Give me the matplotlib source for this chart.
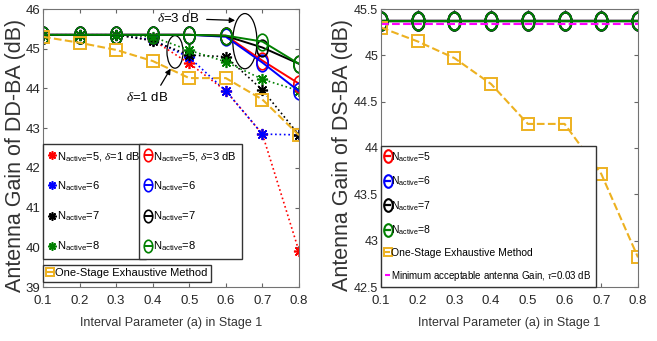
import matplotlib
matplotlib.use("Agg")
import matplotlib.pyplot as plt
from matplotlib.path import Path
from matplotlib.patches import Ellipse
import numpy as np

# fonts (horizontal text in the reference is narrow, vertical text is tall)
plt.rcParams["font.family"] = ["Liberation Sans", "DejaVu Sans"]
plt.rcParams["mathtext.fontset"] = "custom"
plt.rcParams["mathtext.rm"] = "Liberation Sans"
plt.rcParams["mathtext.it"] = "Liberation Serif:italic"

# data
a = [0.1, 0.2, 0.3, 0.4, 0.5, 0.6, 0.7, 0.8]
exhaustive = [45.30, 45.15, 44.97, 44.69, 44.26, 44.26, 43.72, 42.82]

# DD-BA, delta = 1 dB
dd_d1 = {
    5: [45.35, 45.35, 45.35, 45.22, 44.63, 43.94, 42.85, 39.90],
    6: [45.35, 45.35, 45.35, 45.22, 44.78, 43.94, 42.85, 42.83],
    7: [45.35, 45.35, 45.35, 45.20, 44.84, 44.80, 43.96, 42.83],
    8: [45.35, 45.35, 45.35, 45.30, 44.96, 44.67, 44.23, 43.94],
}
# DD-BA, delta = 3 dB
dd_d3 = {
    5: [45.35, 45.35, 45.35, 45.35, 45.35, 45.33, 44.70, 44.12],
    6: [45.35, 45.35, 45.35, 45.35, 45.35, 45.30, 44.65, 43.93],
    7: [45.35, 45.35, 45.35, 45.35, 45.35, 45.32, 45.03, 44.62],
    8: [45.35, 45.35, 45.35, 45.35, 45.35, 45.33, 45.18, 44.62],
}
# DS-BA
ds = {
    5: [45.37] * 8,
    6: [45.37] * 8,
    7: [45.37] * 8,
    8: [45.37] * 8,
}
min_gain = [45.34] * 8
colors = {5: "red", 6: "blue", 7: "black", 8: "#008000"}
orange = "#EDB120"

# tall ellipse marker (like the squashed MATLAB circles)
circ = Path.unit_circle()
ell_marker = Path(circ.vertices * np.array([0.68, 1.0]), circ.codes)
ast = (8, 2, 0)

fig = plt.figure(figsize=(6.57, 3.41), dpi=100)
ax1 = fig.add_axes([43 / 657, 54 / 341, 256 / 657, 278 / 341])
ax2 = fig.add_axes([381 / 657, 54 / 341, 257 / 657, 278 / 341])

for ax in (ax1, ax2):
    ax.tick_params(direction="in", top=True, right=True, labelsize=9.5,
                   length=3, color="0.4", labelcolor="0.15")
    ax.tick_params(axis="x", pad=6)
    ax.tick_params(axis="y", pad=2)
    for s in ax.spines.values():
        s.set_color("0.45")
    ax.set_xlim(0.1, 0.8)
    ax.set_xticks(a)
    ax.set_xlabel("Interval Parameter (a) in Stage 1", fontsize=9, color="0.2",
                  labelpad=7)
ax2.tick_params(axis="y", labelsize=9)

# ---- left: DD-BA ----
h1 = []
for n in [5, 6, 7, 8]:
    l, = ax1.plot(a, dd_d1[n], linestyle=":", color=colors[n], marker=ast,
                  markersize=8, markeredgewidth=1.2, linewidth=1.2)
    h1.append(l)
h3 = []
for n in [5, 6, 7, 8]:
    l, = ax1.plot(a, dd_d3[n], linestyle="-", color=colors[n], marker=ell_marker,
                  markersize=12, markerfacecolor="none", markeredgewidth=1.2,
                  linewidth=1.4)
    h3.append(l)
he, = ax1.plot(a, exhaustive, linestyle="--", color=orange, marker="s",
               markersize=8, markerfacecolor="none", markeredgewidth=1.4,
               linewidth=1.5)
ax1.set_ylim(39, 46)
ax1.set_yticks([39, 40, 41, 42, 43, 44, 45, 46])
ax1.set_ylabel("Antenna Gain of DD-BA (dB)", fontsize=15.5, color="0.2")
ax1.yaxis.set_label_coords(-17 / 256, 0.475)

lab1 = [r"N$_{\rm active}$=5, $\delta$=1 dB"] + [r"N$_{\rm active}$=%d" % n for n in [6, 7, 8]]
lab3 = [r"N$_{\rm active}$=5, $\delta$=3 dB"] + [r"N$_{\rm active}$=%d" % n for n in [6, 7, 8]]
kw = dict(fontsize=8, handlelength=0.7, handletextpad=0.1, borderpad=0.5,
          labelspacing=1.5, fancybox=False, framealpha=1, borderaxespad=0,
          markerscale=0.75)
leg1 = ax1.legend(h1, lab1, loc="upper left", bbox_to_anchor=(0.0, 0.514), **kw)
leg1.get_frame().set_edgecolor("0.2")
ax1.add_artist(leg1)
leg2 = ax1.legend(h3, lab3, loc="upper left", bbox_to_anchor=(0.375, 0.514), **kw)
leg2.get_frame().set_edgecolor("0.2")
ax1.add_artist(leg2)
leg3 = ax1.legend([he], ["One-Stage Exhaustive Method"], loc="upper left",
                  bbox_to_anchor=(0.0, 0.079), **dict(kw, borderpad=0.3))
leg3.get_frame().set_edgecolor("0.2")

# delta annotations
ax1.add_patch(Ellipse((0.461, 44.92), 0.044, 0.82, fill=False, edgecolor="black", lw=0.9))
ax1.add_patch(Ellipse((0.652, 45.19), 0.066, 1.39, fill=False, edgecolor="black", lw=0.9))
ax1.text(0.469, 45.75, r"$\delta$=3 dB", fontsize=9.5, ha="center", va="center")
ax1.annotate("", xy=(0.633, 45.71), xytext=(0.54, 45.74),
             arrowprops=dict(arrowstyle="-|>", color="black", lw=0.9, mutation_scale=8))
ax1.text(0.384, 43.76, r"$\delta$=1 dB", fontsize=9.5, ha="center", va="center")
ax1.annotate("", xy=(0.453, 44.56), xytext=(0.418, 44.02),
             arrowprops=dict(arrowstyle="-|>", color="black", lw=0.9, mutation_scale=8))

# ---- right: DS-BA ----
hr = []
for n in [5, 6, 7, 8]:
    l, = ax2.plot(a, ds[n], linestyle="-", color=colors[n], marker=ell_marker,
                  markersize=13, markerfacecolor="none", markeredgewidth=1.5,
                  linewidth=1.6)
    hr.append(l)
hre, = ax2.plot(a, exhaustive, linestyle="--", color=orange, marker="s",
                markersize=8, markerfacecolor="none", markeredgewidth=1.4,
                linewidth=1.5)
hm, = ax2.plot(a, min_gain, linestyle="--", color="magenta", linewidth=1.5)
ax2.set_ylim(42.5, 45.5)
ax2.set_yticks([42.5, 43, 43.5, 44, 44.5, 45, 45.5])
ax2.set_yticklabels(["42.5", "43", "43.5", "44", "44.5", "45", "45.5"])
ax2.set_ylabel("Antenna Gain of DS-BA (dB)", fontsize=15.5, color="0.2")
ax2.yaxis.set_label_coords(-28 / 257, 0.475)

labr = [r"N$_{\rm active}$=%d" % n for n in [5, 6, 7, 8]] + \
       ["One-Stage Exhaustive Method",
        r"Minimum acceptable antenna Gain, $\tau$=0.03 dB"]
legr = ax2.legend(hr + [hre, hm], labr, loc="lower left", bbox_to_anchor=(0.0, 0.0),
                  fontsize=7.5, handlelength=0.45, handletextpad=0.15, borderpad=0.4,
                  labelspacing=1.05, fancybox=False, framealpha=1, borderaxespad=0,
                  markerscale=0.7)
legr.get_frame().set_edgecolor("0.2")
legr.get_texts()[-1].set_fontsize(7)

fig.savefig("out.png", dpi=100)
